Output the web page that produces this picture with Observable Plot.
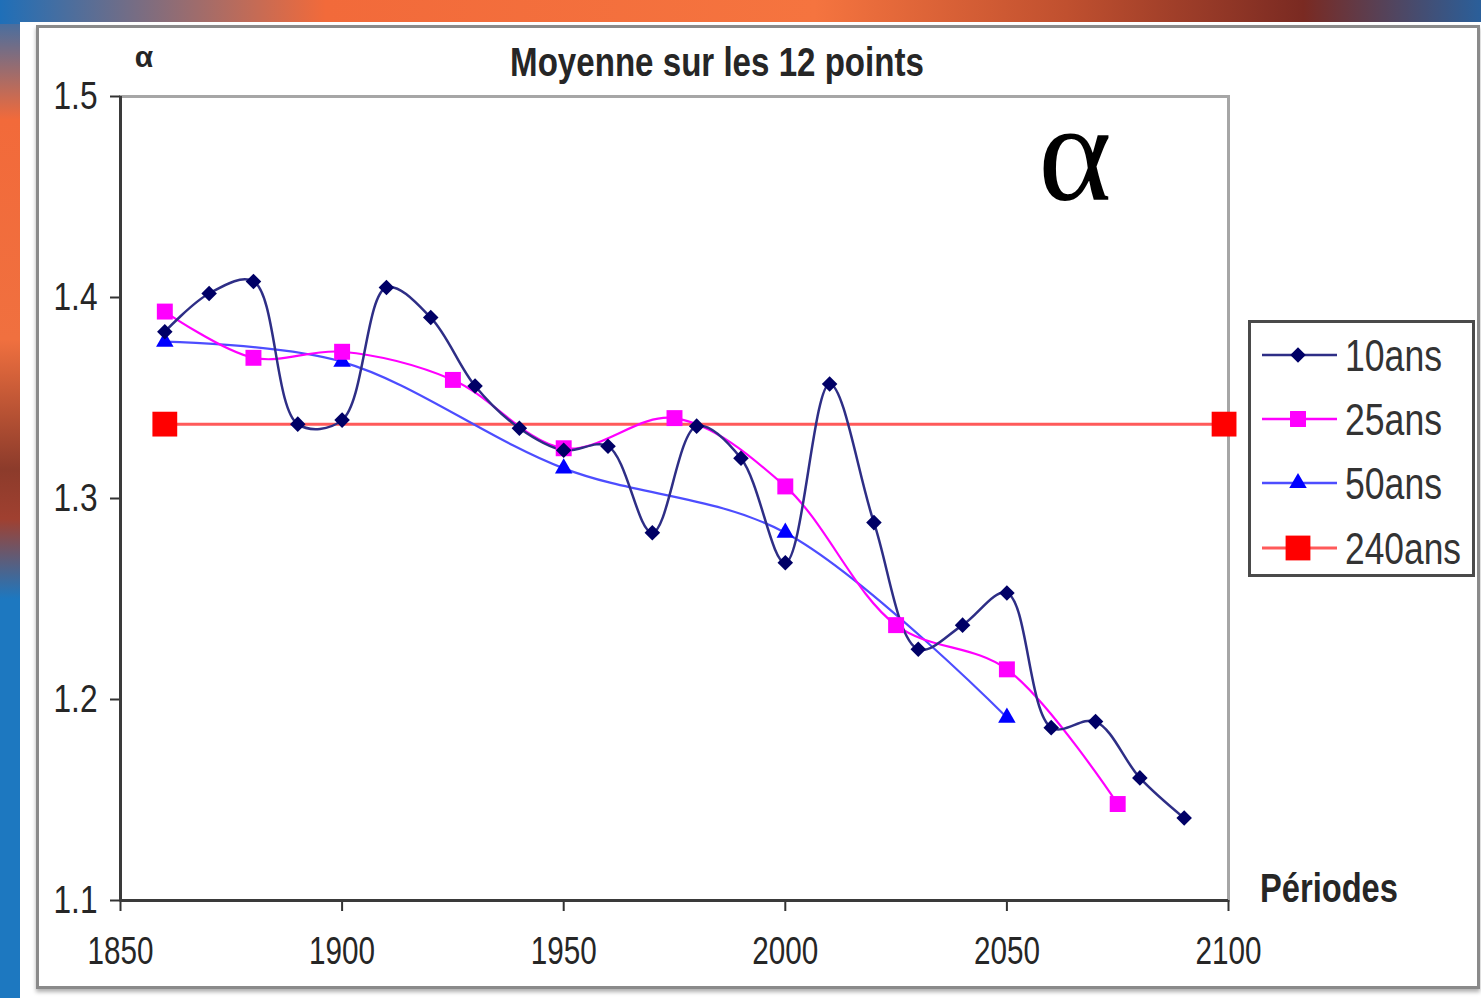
<!DOCTYPE html>
<html>
<head>
<meta charset="utf-8">
<script src="https://cdn.jsdelivr.net/npm/d3@7"></script>
<script src="https://cdn.jsdelivr.net/npm/@observablehq/plot@0.6"></script>
<style>
  body { margin: 0; }
  #wrap { position: relative; width: 1481px; height: 998px; overflow: hidden;
    background: linear-gradient(180deg, #1f6fb8 0%, #f26a3a 12%, #f0703f 34%, #8c3b2b 47%, #a04030 52%, #1d78c0 60%, #1d78c0 100%); }
  #topstrip { position: absolute; left: 0; top: 0; width: 1481px; height: 24px;
    background: linear-gradient(90deg, #1f6fb8 0%, #f26a3a 22%, #f5743f 55%, #c0502f 72%, #7a2a22 88%, #2a5f9a 100%); }
  #white { position: absolute; left: 20px; top: 22px; right: 0; bottom: 0; background: #fff; }
  #panel { position: absolute; left: 36px; top: 25px; width: 1438px; height: 958px;
    border: 3px solid #8a8a8a; box-shadow: 0 3px 4px #b0b0b0; background: #fff; }
  #chart { position: absolute; left: 0; top: 0; }
  #overlay { position: absolute; left: 0; top: 0; pointer-events: none; }
  .greek { font-family: "Liberation Serif", serif; }
</style>
</head>
<body>
<div id="wrap">
  <div id="topstrip"></div>
  <div id="white"></div>
  <div id="panel"></div>
  <div id="chart"></div>
  <svg id="overlay" width="1481" height="998"></svg>
</div>
<script>
// ---- data ----
const years10 = [1860,1870,1880,1890,1900,1910,1920,1930,1940,1950,1960,1970,1980,1990,2000,2010,2020,2030,2040,2050,2060,2070,2080,2090];
const alpha10 = [1.383,1.402,1.408,1.337,1.339,1.405,1.390,1.356,1.335,1.324,1.326,1.283,1.336,1.320,1.268,1.357,1.288,1.225,1.237,1.253,1.186,1.189,1.161,1.141];
const years25 = [1860,1880,1900,1925,1950,1975,2000,2025,2050,2075];
const alpha25 = [1.393,1.370,1.373,1.359,1.325,1.340,1.306,1.237,1.215,1.148];
const years50 = [1860,1900,1950,2000,2050];
const alpha50 = [1.378,1.368,1.315,1.283,1.191];
const years240 = [1860,2099];
const alpha240 = [1.337,1.337];
const xTicks = [1850,1900,1950,2000,2050,2100];
const yTicks = [1.1,1.2,1.3,1.4,1.5];
const seriesNames = ["10ans","25ans","50ans","240ans"];
const chartTitle = "Moyenne sur les 12 points";
const xLabel = "Périodes";
const yLabel = "α";

const toRows = (xs, ys) => xs.map((x, i) => ({year: x, value: ys[i]}));
const d10 = toRows(years10, alpha10);
const d25 = toRows(years25, alpha25);
const d50 = toRows(years50, alpha50);
const d240 = toRows(years240, alpha240);

const c10 = "#000066", c10line = "#2e2e86";
const c25 = "#ff00ff", c50 = "#0000ff", c50line = "#4d4dff", c240 = "#ff0000", c240line = "#ff5a5a";
const sans = "'Liberation Sans', Arial, sans-serif";

const chart = Plot.plot({
  width: 1481,
  height: 998,
  marginLeft: 120,
  marginRight: 253,
  marginTop: 96,
  marginBottom: 98,
  style: {background: "transparent", fontFamily: sans, fontSize: "38px", color: "#262626"},
  x: {domain: [1850, 2100]},
  y: {domain: [1.1, 1.5]},
  marks: [
    Plot.frame({stroke: "#a6a6a6", strokeWidth: 3}),
    Plot.axisX({ticks: xTicks, tickFormat: d => String(d), tickSize: 11, tickPadding: 26,
      stroke: "#333", strokeWidth: 2, fontSize: 38, label: null}),
    Plot.axisY({ticks: yTicks, tickFormat: d => d.toFixed(1), tickSize: 10, tickPadding: 13,
      stroke: "#333", strokeWidth: 2, fontSize: 38, label: null}),
    Plot.ruleX([1850], {stroke: "#3a3a3a", strokeWidth: 3}),
    Plot.ruleY([1.1], {stroke: "#3a3a3a", strokeWidth: 3}),
    // 240ans
    Plot.line(d240, {x: "year", y: "value", stroke: c240line, strokeWidth: 3}),
    // 50ans
    Plot.line(d50, {x: "year", y: "value", stroke: c50line, strokeWidth: 2.2, curve: "catmull-rom"}),
    // 25ans
    Plot.line(d25, {x: "year", y: "value", stroke: c25, strokeWidth: 2.2, curve: "catmull-rom"}),
    // 10ans
    Plot.line(d10, {x: "year", y: "value", stroke: c10line, strokeWidth: 2.5, curve: "catmull-rom"}),
    Plot.dot(d240, {x: "year", y: "value", symbol: "square", r: 14, fill: c240}),
    Plot.dot(d50, {x: "year", y: "value", symbol: "triangle", r: 6.5, fill: c50}),
    Plot.dot(d25, {x: "year", y: "value", symbol: "square", r: 9, fill: c25}),
    Plot.dot(d10, {x: "year", y: "value", symbol: "square", rotate: 45, r: 6.2, fill: c10})
  ]
});
document.getElementById("chart").appendChild(chart);

// narrow the tick labels like the reference's condensed lettering
d3.select(chart).selectAll('g[aria-label="x-axis tick label"] text')
  .attr("textLength", 66).attr("lengthAdjust", "spacingAndGlyphs");
d3.select(chart).selectAll('g[aria-label="y-axis tick label"] text')
  .attr("textLength", 44).attr("lengthAdjust", "spacingAndGlyphs");

// ---- overlay texts and legend ----
const ov = d3.select("#overlay");
// condensed text: draw at natural width, then squeeze horizontally to the target width
function narrowText(parent, x, y, str, size, len, weight, anchor) {
  const g = parent.append("g");
  const t = g.append("text").attr("x", 0).attr("y", 0).attr("text-anchor", anchor || "start")
    .attr("font-family", sans).attr("font-weight", weight || "normal").attr("font-size", size)
    .attr("fill", "#262626").text(str);
  const natural = t.node().getComputedTextLength() || len;
  g.attr("transform", `translate(${x},${y}) scale(${len / natural},1)`);
  return t;
}
narrowText(ov, 717, 76, chartTitle, 40, 414, "bold", "middle");
narrowText(ov, 1260, 902, xLabel, 40, 138, "bold");
ov.append("text").attr("x", 144).attr("y", 67).attr("text-anchor", "middle")
  .attr("font-family", sans).attr("font-weight", "bold").attr("font-size", 30)
  .attr("fill", "#262626").text(yLabel);
ov.append("text").attr("class", "greek").attr("x", 1075).attr("y", 200).attr("text-anchor", "middle")
  .attr("font-size", 140).attr("fill", "#000").text("α");

// legend
const lg = ov.append("g");
lg.append("rect").attr("x", 1249.5).attr("y", 321.5).attr("width", 224).attr("height", 254)
  .attr("fill", "#fff").attr("stroke", "#4a4a4a").attr("stroke-width", 3);
const rowsY = [355, 419, 483, 548];
const lineCols = [c10line, c25, c50line, c240line];
const markCols = [c10, c25, c50, c240];
const sym = [d3.symbolSquare, d3.symbolSquare, d3.symbolTriangle, d3.symbolSquare];
const symR = [6.2, 9, 6.5, 14];
const symRot = [45, 0, 0, 0];
const labLen = [97, 97, 97, 116];
seriesNames.forEach((name, i) => {
  const y = rowsY[i];
  lg.append("line").attr("x1", 1262).attr("x2", 1337).attr("y1", y).attr("y2", y)
    .attr("stroke", lineCols[i]).attr("stroke-width", i === 3 ? 3 : 2.5);
  lg.append("path").attr("d", d3.symbol(sym[i], symR[i] * symR[i] * Math.PI)())
    .attr("transform", `translate(1298,${y}) rotate(${symRot[i]})`).attr("fill", markCols[i]);
  narrowText(lg, 1345, y + 16, name, 44, labLen[i]).attr("fill", "#333");
});
</script>
</body>
</html>
